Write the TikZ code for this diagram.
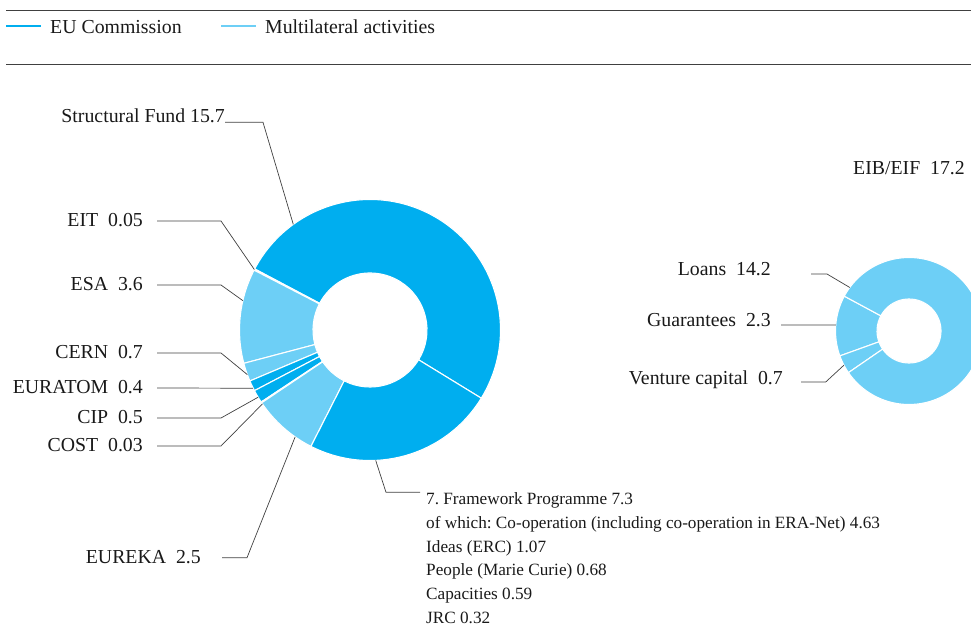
\documentclass[tikz,border=0pt]{standalone}
\usepackage{fontspec}
\setmainfont{Liberation Serif}
\usepackage{tikz}
\frenchspacing

\definecolor{eublue}{HTML}{00AEEF}
\definecolor{multiblue}{HTML}{6DCFF6}

\begin{document}
\begin{tikzpicture}[x=1pt,y=1pt,
        lbl/.style={font=\fontsize{19.8}{24}\selectfont, text=black!90, inner sep=0pt, text height=13pt, text depth=2pt},
        fptext/.style={font=\fontsize{17.2}{23.8}\selectfont, text=black!90, inner sep=0pt, align=left},
        lead/.style={draw=black!75, line width=0.7pt},
        rule/.style={draw=black!75, line width=0.8pt},
        slice/.style={draw=white, line width=1.1pt}]
            \clip (0,0) rectangle (971,-628);
            % legend
            \draw[rule] (6,-10) -- (971,-10);
            \draw[rule] (6,-64) -- (971,-64);
            \draw[eublue, line width=1.8pt] (6,-26) -- (41,-26);
            \node[lbl, anchor=base west] (eu) at (50,-33.3) {EU Commission};
            \draw[multiblue, line width=1.8pt] (221,-26) -- (256,-26);
            \node[lbl, anchor=base west] (multi) at (265,-33.3) {Multilateral activities};
            % main donut
            \begin{scope}[shift={(370,-330)}]
                \foreach \a/\b/\c in {-31.5/152.1/eublue, 152.1/152.7/eublue, 152.7/194.8/multiblue, 194.8/203.0/multiblue, 203.0/207.7/eublue, 207.7/213.5/eublue, 213.5/213.9/multiblue, 213.9/243.1/multiblue, 243.1/328.5/eublue}
                    \filldraw[slice, fill=\c] (\a:57pt) arc[start angle=\a, end angle=\b, radius=57pt] -- (\b:130.5pt) arc[start angle=\b, end angle=\a, radius=130.5pt] -- cycle;
                \coordinate (sfpt) at (126:130.5pt);
                \coordinate (eitpt) at (152.4:130.5pt);
                \coordinate (esapt) at (167:130.5pt);
                \coordinate (cernpt) at (200:130.5pt);
                \coordinate (euratompt) at (206.5:130.5pt);
                \coordinate (cippt) at (211:130.5pt);
                \coordinate (costpt) at (214.5:130.5pt);
                \coordinate (eurekapt) at (235:130.5pt);
                \coordinate (fppt) at (272.5:130.5pt);
            \end{scope}
            % EIB/EIF donut
            \begin{scope}[shift={(909,-331)}]
                \foreach \a/\b in {151.7/199.8, 199.8/214.5, 214.5/511.7}
                    \filldraw[slice, fill=multiblue] (\a:32pt) arc[start angle=\a, end angle=\b, radius=32pt] -- (\b:73.5pt) arc[start angle=\b, end angle=\a, radius=73.5pt] -- cycle;
                \coordinate (loanspt) at (143.7:73.5pt);
                \coordinate (guarpt) at (175.3:73.5pt);
                \coordinate (ventpt) at (207.7:73.5pt);
            \end{scope}
            % labels
            \node[lbl, anchor=base east] (sf) at (225,-122.3) {Structural Fund 15.7};
            \node[lbl, anchor=east] (eit) at (143,-221) {EIT\enspace 0.05};
            \node[lbl, anchor=east] (esa) at (143,-285) {ESA\enspace 3.6};
            \node[lbl, anchor=east] (cern) at (143,-353) {CERN\enspace 0.7};
            \node[lbl, anchor=east] (euratom) at (143,-388) {EURATOM\enspace 0.4};
            \node[lbl, anchor=east] (cip) at (143,-418) {CIP\enspace 0.5};
            \node[lbl, anchor=east] (cost) at (143,-446) {COST\enspace 0.03};
            \node[lbl, anchor=east] (eureka) at (201,-557.7) {EUREKA\enspace 2.5};
            \node[fptext, anchor=north west] (fp) at (426,-492.3) {7. Framework Programme 7.3\\
                of which: Co-operation (including co-operation in ERA-Net) 4.63\\
                Ideas (ERC) 1.07\\
                People (Marie Curie) 0.68\\
                Capacities 0.59\\
                JRC 0.32};
            \node[lbl, anchor=base east] (eib) at (965,-175) {EIB/EIF\enspace 17.2};
            \node[lbl, anchor=base east] (loans) at (771,-276) {Loans\enspace 14.2};
            \node[lbl, anchor=base east] (guar) at (771,-326.7) {Guarantees\enspace 2.3};
            \node[lbl, anchor=base east] (vent) at (783,-384) {Venture capital\enspace 0.7};
            % leaders
            \draw[lead] (sf.base east) -- ++(38,0) -- (sfpt);
            \draw[lead] ([xshift=14pt]eit.east) -- ++(64,0) -- (eitpt);
            \draw[lead] ([xshift=14pt]esa.east) -- ++(64,0) -- (esapt);
            \draw[lead] ([xshift=14pt]cern.east) -- ++(64,0) -- (cernpt);
            \draw[lead] ([xshift=14pt]euratom.east) -- (euratompt);
            \draw[lead] ([xshift=14pt]cip.east) -- ++(64,0) -- (cippt);
            \draw[lead] ([xshift=14pt]cost.east) -- ++(64,0) -- (costpt);
            \draw[lead] ([xshift=21pt]eureka.east) -- ++(25,0) -- (eurekapt);
            \draw[lead] (fppt) -- (386,-492.3) -- ([xshift=-6pt]fp.north west);
            \draw[lead] ([shift={(40,2)}]loans.base east) -- ++(16,0) -- (loanspt);
            \draw[lead] ([shift={(10,1.7)}]guar.base east) -- (guarpt);
            \draw[lead] ([shift={(18,2)}]vent.base east) -- ++(24.7,0) -- (ventpt);
        \end{tikzpicture}
\end{document}
